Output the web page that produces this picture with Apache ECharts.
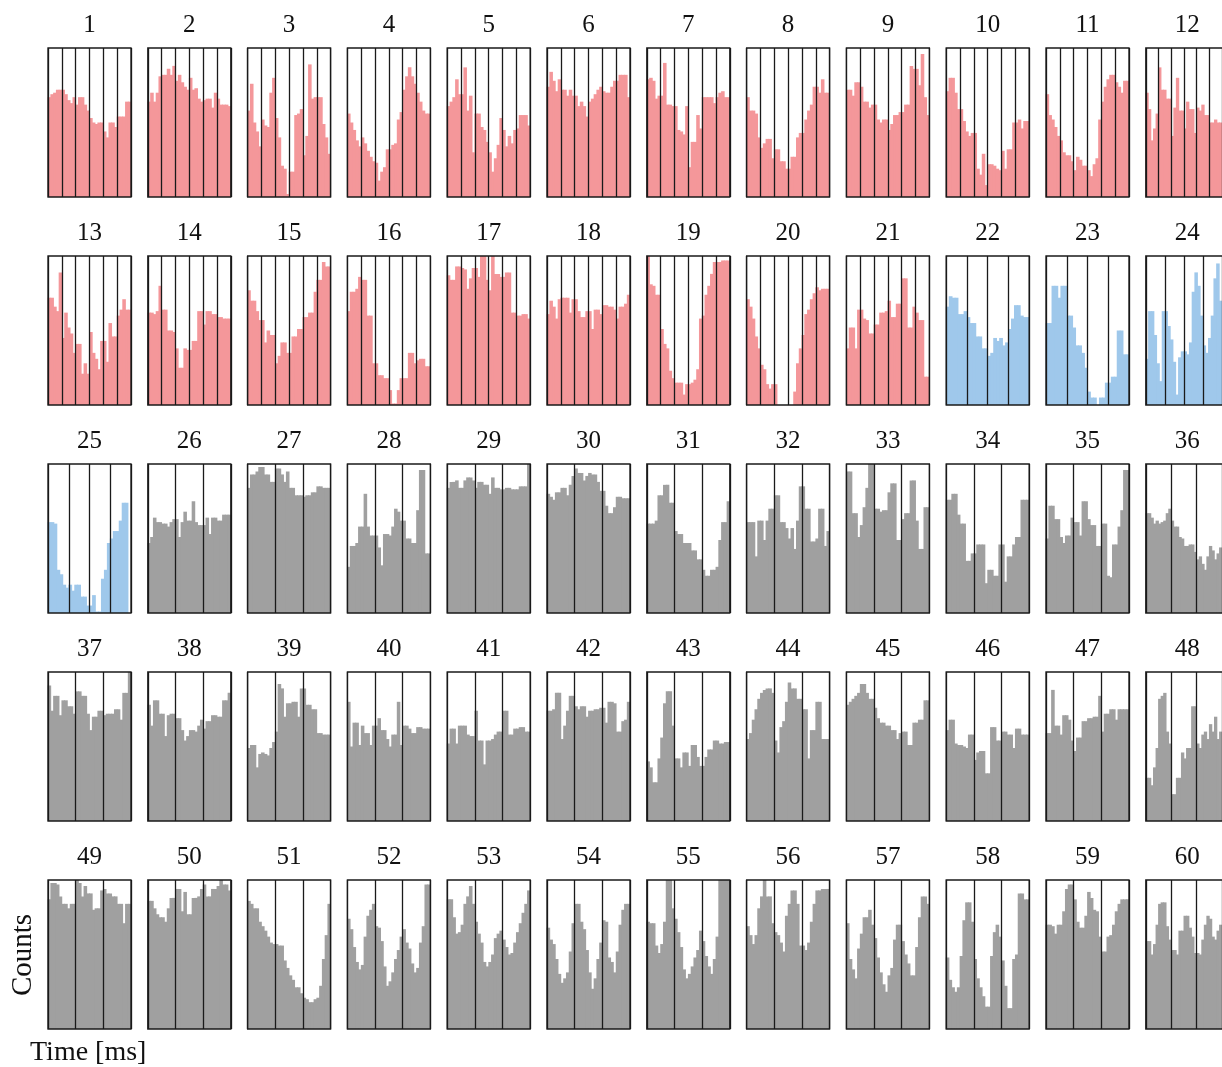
<!DOCTYPE html>
<html>
<head>
  <title>Counts per unit</title>
  <meta http-equiv="Content-Type" content="text/html; charset=utf-8">
  <script src="https://cdn.jsdelivr.net/npm/echarts@6/dist/echarts.min.js"></script>
  <style>
    html, body { margin: 0; padding: 0; background: #fff; }
    #chart { width: 1222px; height: 1067px; }
  </style>
</head>
<body>
  <div id="chart"></div>
  <script type="application/javascript">
      // bar heights, percent of panel height; units 1-21
      var redCounts = [
          [67,69,70,72,72,72,69,65,63,67,62,67,67,62,58,53,50,49,50,50,44,40,50,50,47,54,54,54,64,64],
          [64,70,64,70,81,82,82,86,82,88,78,82,77,74,72,80,72,73,66,64,65,66,66,60,70,66,62,62,62,61],
          [58,76,50,44,34,52,48,47,70,80,53,40,21,19,2,17,17,55,56,59,28,41,89,66,67,67,67,49,40,29],
          [56,50,45,38,34,40,36,31,27,24,23,11,17,20,32,32,35,36,52,57,72,81,87,81,76,70,64,58,56,56],
          [61,64,67,79,69,69,87,58,68,30,56,56,47,45,37,30,17,26,35,53,45,34,41,36,45,46,55,55,55,48],
          [74,84,78,71,79,72,72,68,72,68,68,61,64,61,54,64,66,69,72,74,71,70,70,74,78,78,82,82,82,67],
          [79,80,78,66,68,68,90,62,62,61,61,45,44,42,61,20,37,37,55,46,67,67,67,67,63,67,70,71,67,67],
          [67,58,58,56,40,33,36,39,39,26,32,32,24,24,19,19,27,27,40,43,43,52,58,62,74,74,70,79,70,70],
          [72,72,68,77,77,74,64,64,60,62,62,52,50,52,52,45,49,55,55,57,57,62,62,88,86,86,75,96,67,55],
          [71,80,80,70,59,59,51,44,41,43,43,19,15,29,8,22,22,21,19,18,31,19,32,32,50,50,52,46,51,51],
          [69,55,52,47,41,38,30,28,28,24,18,27,25,21,21,18,14,22,26,52,64,74,79,82,82,77,74,70,78,78],
          [70,59,38,46,56,87,72,72,66,66,41,60,80,58,58,46,64,59,59,43,60,58,62,55,55,50,50,52,50,50],
          [72,72,66,63,89,45,62,52,48,35,41,41,21,28,21,49,35,31,24,43,43,29,55,46,46,60,64,71,64,64],
          [62,62,61,63,80,64,64,50,50,49,38,25,25,38,37,37,43,43,63,63,54,63,63,61,61,59,59,58,58,58],
          [77,70,70,63,57,57,42,50,47,47,28,33,42,42,35,35,46,46,51,51,59,59,62,62,76,84,84,96,93,93],
          [63,76,76,78,86,84,84,60,60,28,28,20,20,18,18,10,1,1,10,18,18,18,35,35,28,30,31,31,26,26],
          [87,84,84,93,93,92,91,78,85,92,92,86,100,100,84,77,100,88,88,86,86,89,89,62,62,60,60,61,61,58],
          [61,70,66,58,71,72,72,72,62,71,71,63,59,59,63,63,51,64,64,61,67,67,66,66,64,58,66,66,68,74],
          [100,81,80,74,74,51,41,38,23,18,15,15,15,7,14,14,15,17,24,58,60,74,80,88,96,96,96,97,97,97],
          [71,66,58,46,38,27,24,14,11,14,14,0,0,0,0,0,0,9,28,38,47,61,64,71,75,79,77,78,78,78],
          [38,52,52,38,64,64,58,57,48,48,54,54,62,62,63,70,59,59,68,68,85,85,52,52,66,62,57,57,19,19]
      ];
      // units 22-25
      var blueCounts = [
          [66,73,72,72,61,61,63,59,55,55,46,46,38,38,33,35,45,43,45,40,42,51,58,67,67,60,59,59],
          [55,55,80,80,72,80,80,60,60,52,40,40,35,25,9,5,5,0,5,5,15,15,19,19,50,50,34,34],
          [31,63,63,47,28,16,63,63,53,44,29,7,32,36,36,34,42,76,89,80,60,40,35,45,60,85,95,70],
          [61,61,60,29,26,19,17,19,15,19,19,11,11,5,5,12,1,1,23,29,47,50,55,55,62,74,74,0]
      ];
      // units 26-60
      var grayCounts = [
          [47,51,64,61,61,60,60,58,61,63,63,51,61,68,62,62,75,61,59,59,59,64,53,64,64,62,62,66,66,66],
          [84,93,93,95,98,98,93,93,88,88,97,97,93,88,95,84,84,79,79,79,78,79,79,81,81,85,85,84,84,84],
          [31,45,45,47,58,58,80,58,52,52,52,44,32,53,53,52,58,70,68,62,62,50,50,47,47,69,96,96,40,40],
          [84,88,88,89,84,84,89,91,91,89,84,88,88,86,86,80,91,84,84,83,83,84,84,83,83,83,85,85,85,100],
          [80,78,76,81,81,84,84,79,86,92,97,94,94,89,92,94,93,93,88,82,82,72,67,67,71,78,78,77,77,77],
          [60,60,60,62,79,79,86,86,74,74,55,53,53,47,47,47,42,42,36,36,29,25,25,29,29,31,49,61,61,75],
          [61,61,61,38,62,62,49,62,70,70,79,79,61,61,57,50,57,43,62,85,85,70,70,48,48,50,70,70,45,55],
          [95,95,67,67,51,59,71,84,100,100,70,70,68,69,69,81,87,87,49,49,63,67,67,89,89,62,43,43,71,71],
          [76,76,80,80,66,60,60,35,35,40,40,46,46,46,20,29,29,25,25,46,46,21,38,38,46,51,51,76,76,76],
          [50,72,72,63,63,51,47,52,52,64,61,61,52,75,75,63,59,59,45,45,60,60,25,24,46,46,58,69,96,96],
          [67,67,64,60,62,60,61,62,67,70,62,58,58,51,50,45,45,46,46,41,36,38,33,29,38,45,42,36,40,44],
          [91,74,84,84,71,81,81,77,77,72,87,87,84,84,72,61,70,70,74,74,71,72,72,72,75,75,68,86,86,100],
          [78,64,81,81,72,72,57,71,72,72,69,69,61,54,57,61,61,60,64,68,62,67,67,71,71,70,70,81,81,86],
          [49,51,51,36,45,46,45,44,49,53,60,92,89,70,79,79,80,80,70,89,89,78,78,75,75,59,59,58,58,58],
          [80,50,66,66,51,64,59,59,51,64,64,69,61,61,55,50,58,58,80,51,64,64,62,59,59,63,63,62,62,62],
          [52,62,62,52,64,64,64,58,57,57,74,54,54,38,54,54,55,58,60,60,74,74,58,58,62,62,63,63,60,60],
          [74,74,75,86,86,55,64,74,84,84,77,75,77,77,70,74,74,75,75,76,76,66,80,80,79,60,60,67,68,80],
          [40,36,26,26,42,56,79,87,87,64,42,42,36,46,46,37,51,51,43,37,37,43,48,48,54,54,52,52,53,53],
          [55,59,68,75,82,86,88,89,89,86,54,46,63,67,80,93,89,89,82,82,75,75,42,61,61,80,80,55,55,55],
          [78,80,82,84,86,92,92,86,82,82,76,69,66,66,64,64,61,61,55,59,60,60,51,51,66,66,68,68,81,81],
          [61,68,68,52,51,51,50,49,58,58,41,46,47,47,32,32,63,63,54,54,60,60,58,58,49,62,62,58,58,58],
          [59,59,88,64,64,58,71,71,68,54,47,56,56,67,67,69,69,70,70,84,60,72,72,75,75,68,75,75,75,75],
          [29,29,24,36,49,82,84,86,60,52,18,18,29,29,46,42,49,49,77,77,52,49,58,60,55,65,60,70,55,60],
          [87,98,98,97,89,84,84,81,84,84,100,98,89,96,91,91,80,81,81,93,94,91,91,89,89,84,84,71,84,84],
          [86,86,81,77,75,75,72,81,88,88,94,94,79,92,77,77,88,88,89,94,97,89,89,94,94,96,100,97,97,93],
          [86,84,81,81,72,69,66,62,58,57,57,56,56,46,41,36,33,28,28,24,21,20,18,18,20,21,29,47,63,84],
          [74,67,55,45,40,43,62,76,80,84,69,68,59,42,29,32,38,47,53,62,67,58,54,44,38,41,58,69,97,97],
          [87,87,75,64,65,70,84,89,96,84,72,64,58,45,42,45,50,61,64,66,60,55,50,51,58,65,71,78,84,93],
          [68,60,57,47,37,31,34,38,52,71,84,84,72,67,53,38,27,34,47,58,73,72,48,45,38,52,70,80,84,84],
          [72,71,71,56,51,57,72,100,100,81,74,65,55,40,34,37,42,48,53,66,59,49,42,37,47,62,100,100,100,100],
          [69,63,57,63,81,89,100,89,89,71,65,63,58,52,76,84,93,93,84,56,56,53,58,72,84,93,93,94,94,94],
          [71,47,40,34,54,64,75,75,80,70,61,48,38,30,25,36,41,60,70,70,59,50,44,36,36,55,75,89,89,84],
          [48,33,28,25,28,49,73,85,85,72,47,34,28,22,15,15,49,65,70,62,46,29,14,14,47,50,91,91,87,87],
          [70,70,69,64,70,70,79,94,97,97,87,72,68,68,76,92,88,80,79,62,52,52,62,63,70,79,84,87,87,87],
          [59,59,50,57,70,84,85,85,69,60,53,53,50,66,66,76,76,68,62,51,51,50,60,70,76,74,62,60,66,70]
      ];

      var groups = [
          {counts: redCounts, color: '#f4979a', segments: 6},
          {counts: blueCounts, color: '#9fc8eb', segments: 4},
          {counts: grayCounts, color: '#a0a0a0', segments: 3}
      ];

      var serif = '"Liberation Serif", "Times New Roman", serif';
      var lineColor = '#1a1a1a';

      // one histogram bin: a rect spanning its whole category band, slightly
      // widened so neighbouring bins meet without anti-aliased seams
      function binRenderer(color) {
          return function (params, api) {
              var top = api.coord([api.value(0), api.value(1)]);
              var base = api.coord([api.value(0), 0]);
              var w = api.size([1, 0])[0];
              return {
                  type: 'rect',
                  shape: {x: top[0] - w / 2 - 0.4, y: top[1], width: w + 0.8, height: base[1] - top[1]},
                  style: {fill: color}
              };
          };
      }

      var myChart = echarts.init(document.getElementById('chart'));
      var grid = [], xAxis = [], yAxis = [], series = [], graphic = [];
      var n = 0;
      groups.forEach(function (g) {
          g.counts.forEach(function (vals) {
              var col = n % 12, row = Math.floor(n / 12);
              var left = 48 + col * 99.8, top = 48 + row * 208;
              grid.push({left: left, top: top, width: 83, height: 149});
              xAxis.push({
                  type: 'category', gridIndex: n, show: false,
                  data: vals.map(function (v, i) { return i; })
              });
              xAxis.push({
                  type: 'value', gridIndex: n, min: 0, max: g.segments, interval: 1, z: 5,
                  axisLine: {show: false}, axisTick: {show: false}, axisLabel: {show: false},
                  splitLine: {show: true, lineStyle: {color: lineColor, width: 1.3}}
              });
              yAxis.push({type: 'value', gridIndex: n, min: 0, max: 100, show: false});
              series.push({
                  type: 'custom', xAxisIndex: 2 * n, yAxisIndex: n, silent: true,
                  data: vals.map(function (v, i) { return [i, v]; }),
                  encode: {x: 0, y: 1},
                  renderItem: binRenderer(g.color)
              });
              graphic.push({
                  type: 'rect', z: 100, silent: true,
                  shape: {x: left, y: top, width: 83, height: 149},
                  style: {fill: null, stroke: lineColor, lineWidth: 1.3}
              });
              graphic.push({
                  type: 'text', x: left + 41.5, y: top - 23, silent: true,
                  style: {text: String(n + 1), font: '25px ' + serif, fill: '#111',
                          align: 'center', verticalAlign: 'middle'}
              });
              n++;
          });
      });
      graphic.push({
          type: 'text', x: 23, y: 955, rotation: Math.PI / 2, silent: true,
          style: {text: 'Counts', font: '29px ' + serif, fill: '#111',
                  align: 'center', verticalAlign: 'middle'}
      });
      graphic.push({
          type: 'text', x: 30, y: 1053, silent: true,
          style: {text: 'Time [ms]', font: '28px ' + serif, fill: '#111',
                  align: 'left', verticalAlign: 'middle'}
      });

      myChart.setOption({
          animation: false,
          grid: grid,
          xAxis: xAxis,
          yAxis: yAxis,
          series: series,
          graphic: graphic
      });
  </script>
</body>
</html>
